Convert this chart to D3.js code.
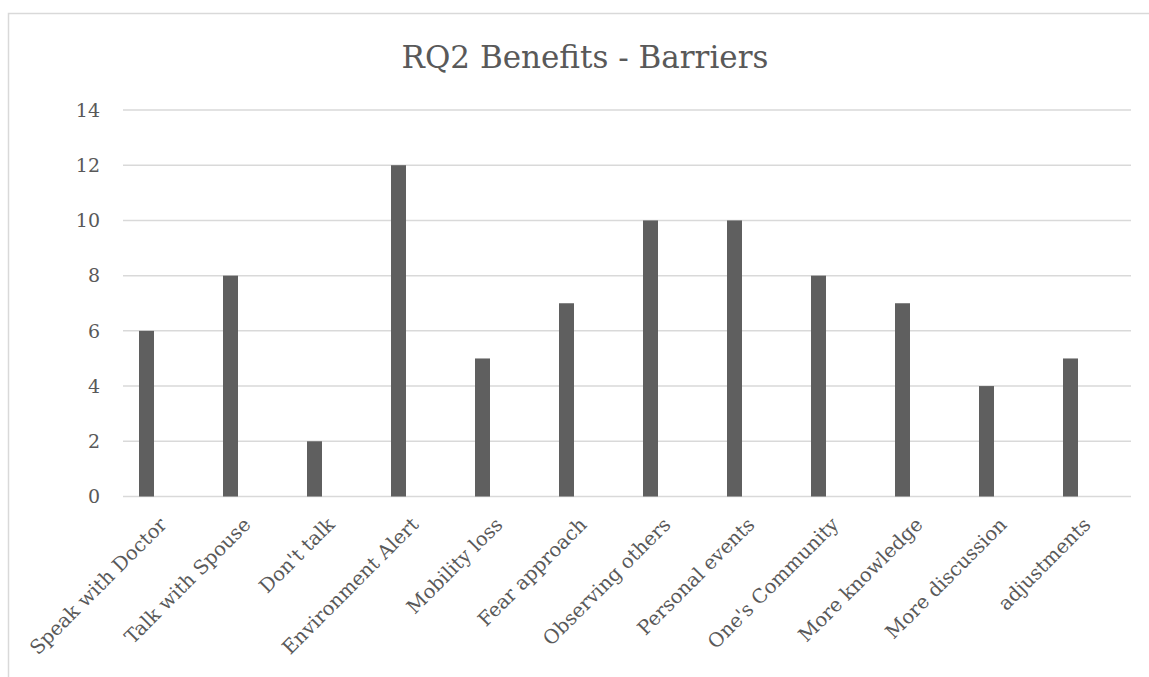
<!DOCTYPE html>
<html lang="en">
<head>
<meta charset="utf-8">
<title>RQ2 Benefits - Barriers</title>
<script src="https://cdn.jsdelivr.net/npm/d3@7"></script>
<style>
  body { margin: 0; background: #fff; }
  text { font-family: "DejaVu Serif", "Liberation Serif", serif; fill: #595959; }
</style>
</head>
<body>
<div id="chart"></div>
<script>

// data
var categories = ["Speak with Doctor", "Talk with Spouse", "Don't talk", "Environment Alert",
  "Mobility loss", "Fear approach", "Observing others", "Personal events",
  "One's Community", "More knowledge", "More discussion", "adjustments"];
var counts = [6, 8, 2, 12, 5, 7, 10, 10, 8, 7, 4, 5];
var yTicks = [0, 2, 4, 6, 8, 10, 12, 14];

var width = 1149, height = 677;
var plotLeft = 123, plotRight = 1131, plotTop = 110, plotBottom = 496.5;

var svg = d3.select("#chart").append("svg")
  .attr("width", width)
  .attr("height", height);

// chart area border (cut off by the picture on right/bottom)
svg.append("rect")
  .attr("x", 8.5).attr("y", 13.5)
  .attr("width", 1160).attr("height", 700)
  .attr("fill", "none")
  .attr("stroke", "#d9d9d9")
  .attr("stroke-width", 1.5);

var x = d3.scaleBand().domain(categories).range([plotLeft, plotRight]);
var y = d3.scaleLinear().domain([0, 14]).range([plotBottom, plotTop]);

// gridlines
svg.append("g").selectAll("line")
  .data(yTicks)
  .enter().append("line")
  .attr("x1", plotLeft).attr("x2", plotRight)
  .attr("y1", function(d) { return y(d); })
  .attr("y2", function(d) { return y(d); })
  .attr("stroke", "#d9d9d9")
  .attr("stroke-width", 1.5);

// y labels
svg.append("g").selectAll("text")
  .data(yTicks)
  .enter().append("text")
  .attr("x", 100)
  .attr("y", function(d) { return y(d); })
  .attr("dy", "0.36em")
  .attr("text-anchor", "end")
  .style("font-size", "19px")
  .text(function(d) { return d; });

// bars (offset left within band, like an empty 2nd series in Excel)
var bw = 15;
svg.append("g").selectAll("rect")
  .data(counts)
  .enter().append("rect")
  .attr("x", function(d, i) { return x(categories[i]) + x.bandwidth() / 2 - 18.5 - bw / 2; })
  .attr("y", function(d) { return y(d); })
  .attr("width", bw)
  .attr("height", function(d) { return y(0) - y(d); })
  .attr("fill", "#5f5f5f");

// x labels
svg.append("g").selectAll("text")
  .data(categories)
  .enter().append("text")
  .attr("transform", function(d) {
    return "translate(" + (x(d) + x.bandwidth() / 2 - 2) + "," + 521 + ") rotate(-45)";
  })
  .attr("text-anchor", "end")
  .attr("dy", "0.35em")
  .style("font-size", "19.5px")
  .text(function(d) { return d; });

// title
svg.append("text")
  .attr("x", 585)
  .attr("y", 68)
  .attr("text-anchor", "middle")
  .style("font-size", "31px")
  .text("RQ2 Benefits - Barriers");

</script>
</body>
</html>
